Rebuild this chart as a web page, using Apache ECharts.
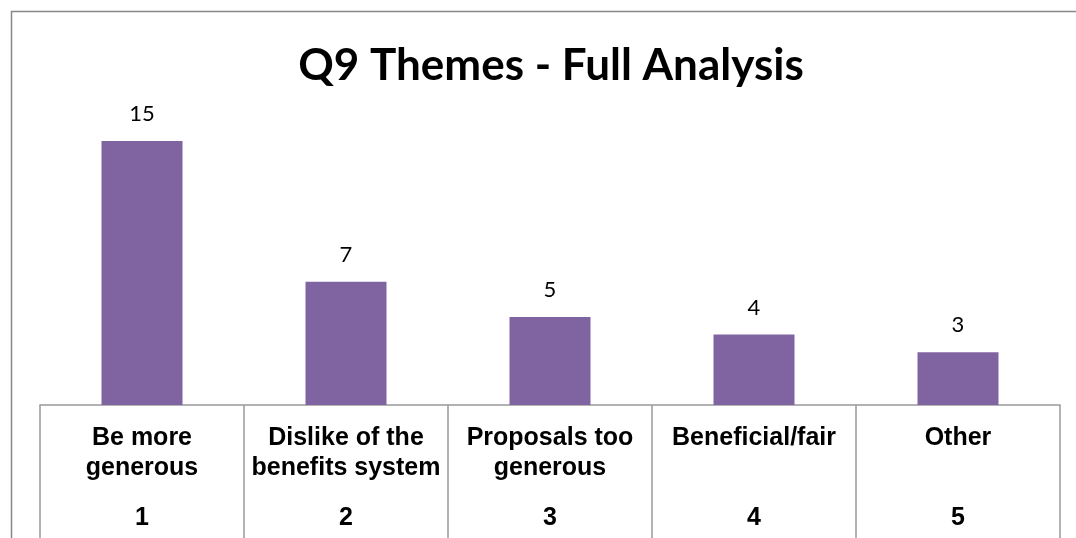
<!DOCTYPE html>
<html>
<head>
<meta charset="utf-8">
<script src="https://cdn.jsdelivr.net/npm/echarts@6/dist/echarts.min.js"></script>
<style>
  html, body { margin: 0; padding: 0; background: #fff; }
  #chart { width: 1076px; height: 538px; }
</style>
</head>
<body>
<div id="chart"></div>
<script>
const themes = [
  ['Be more', 'generous'],
  ['Dislike of the', 'benefits system'],
  ['Proposals too', 'generous'],
  ['Beneficial/fair', ' '],
  ['Other', ' ']
];
const themeNumbers = ['1', '2', '3', '4', '5'];
const counts = [15, 7, 5, 4, 3];

const chart = echarts.init(document.getElementById('chart'));

const categories = themeNumbers.map((n, i) =>
  '{a|' + themes[i][0] + '}\n{a|' + themes[i][1] + '}\n{n|' + n + '}'
);

chart.setOption({
  animation: false,
  title: {
    text: 'Q9 Themes - Full Analysis',
    left: 546,
    textAlign: 'center',
    top: 39,
    textStyle: { fontFamily: 'Lato', fontWeight: 'bold', fontSize: 44, color: '#000' }
  },
  graphic: [{
    type: 'rect',
    shape: { x: 11.5, y: 11.5, width: 1200, height: 700 },
    style: { fill: 'none', stroke: '#878787', lineWidth: 1.5 },
    silent: true
  }],
  grid: { left: 40, right: 16, top: 123.4, bottom: 133, outerBoundsMode: 'none' },
  xAxis: {
    type: 'category',
    data: categories,
    axisLine: { lineStyle: { color: '#999', width: 1.5 } },
    axisTick: { show: true, length: 140, lineStyle: { color: '#999', width: 1.5 } },
    axisLabel: {
      margin: 18,
      interval: 0,
      rich: {
        a: { fontFamily: 'Liberation Sans', fontWeight: 'bold', fontSize: 25, lineHeight: 30, color: '#000' },
        n: { fontFamily: 'Liberation Sans', fontWeight: 'bold', fontSize: 25, lineHeight: 70, color: '#000' }
      }
    }
  },
  yAxis: { type: 'value', min: 0, max: 16, show: false, splitLine: { show: false } },
  series: [{
    type: 'bar',
    data: counts,
    barWidth: 81,
    itemStyle: { color: '#8064A2' },
    label: {
      show: true,
      position: 'top',
      distance: 16,
      fontFamily: 'Lato',
      fontSize: 22,
      color: '#000'
    }
  }]
});
</script>
</body>
</html>
